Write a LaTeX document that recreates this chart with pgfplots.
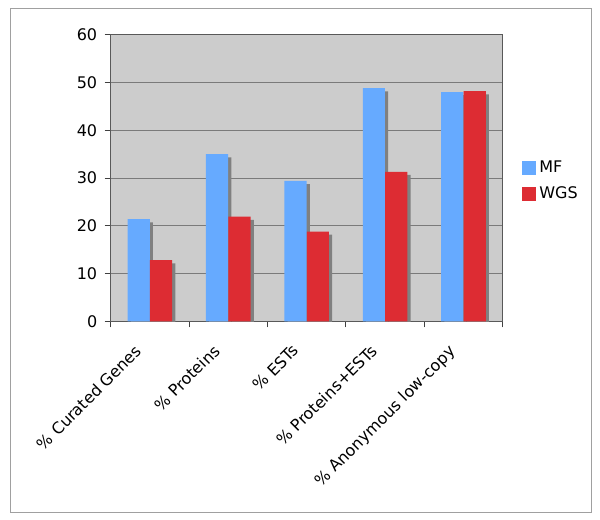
\documentclass[border=0pt]{standalone}
\usepackage{pgfplots}
\pgfplotsset{compat=1.18}
\usepackage{fontspec}
\setmainfont{DejaVu Sans}
\usetikzlibrary{shadows}
\definecolor{mfblue}{HTML}{66AAFF}
\definecolor{wgsred}{HTML}{DD2C33}
\definecolor{bgcol}{HTML}{CCCCCC}
\definecolor{shadowcol}{HTML}{808080}
\definecolor{gridcol}{HTML}{7A7A7A}
\definecolor{framecol}{HTML}{A0A0A0}
\pgfplotstableread{
x mf wgs
1 21.4 12.8
2 35.0 21.9
3 29.4 18.8
4 48.8 31.3
5 48.0 48.2
}\datatable
\begin{document}
\begin{tikzpicture}
\useasboundingbox (0,0) rectangle (600bp,-520bp);
\draw[color=framecol, line width=1bp] (10bp,-8bp) rectangle (591bp,-512bp);
\begin{axis}[
  at={(110.7bp,-321.3bp)}, anchor=south west,
  scale only axis, width=392bp, height=286.6bp,
  xmin=0.5, xmax=5.5, ymin=0, ymax=60,
  ytick={0,10,...,60},
  xtick={1,...,5},
  xtick pos=lower, ytick pos=left,
  xticklabels={\% Curated Genes,\% Proteins,\% ESTs,\% Proteins+ESTs,\% Anonymous low-copy},
  x tick label style={rotate=45, anchor=north east, font=\fontsize{16bp}{19bp}\selectfont, inner sep=1bp, xshift=-21.5bp, yshift=0.8bp},
  y tick label style={font=\fontsize{16bp}{19bp}\selectfont, xshift=-4bp},
  /pgf/number format/assume math mode=true,
  major x tick style={draw=none},
  minor xtick={0.5,1.5,...,5.5},
  tick align=outside,
  major tick length=6bp, minor tick length=6bp,
  tick style={color=black!75, line width=0.8bp},
  axis line style={color=black!65, line width=0.8bp},
  axis background/.style={fill=bgcol},
  ymajorgrids, grid style={color=gridcol, line width=0.8bp},
  legend style={at={(1.0485,0.491)}, anchor=west, draw=none, fill=none,
    font=\fontsize{16bp}{19bp}\selectfont, inner sep=0pt, row sep=11bp,
    nodes={inner sep=1bp}},
  legend cell align=left,
]
\addplot[ybar, bar shift=-11.2bp, bar width=22.2bp, fill=mfblue, draw=none,
  drop shadow={shadow xshift=3.2bp, shadow yshift=-3.2bp, fill=shadowcol, opacity=1}, forget plot]
  table[x=x, y=mf] {\datatable};
\addplot[ybar, bar shift=11.2bp, bar width=22.2bp, fill=wgsred, draw=none,
  drop shadow={shadow xshift=3.2bp, shadow yshift=-3.2bp, fill=shadowcol, opacity=1}, forget plot]
  table[x=x, y=wgs] {\datatable};
\addlegendimage{legend image code/.code={\fill[mfblue] (0bp,-6.5bp) rectangle (13bp,6.5bp);}}
\addlegendentry{\hspace{3bp}MF}
\addlegendimage{legend image code/.code={\fill[wgsred] (0bp,-6.5bp) rectangle (13bp,6.5bp);}}
\addlegendentry{\hspace{3bp}WGS}
\end{axis}
\end{tikzpicture}
\end{document}
